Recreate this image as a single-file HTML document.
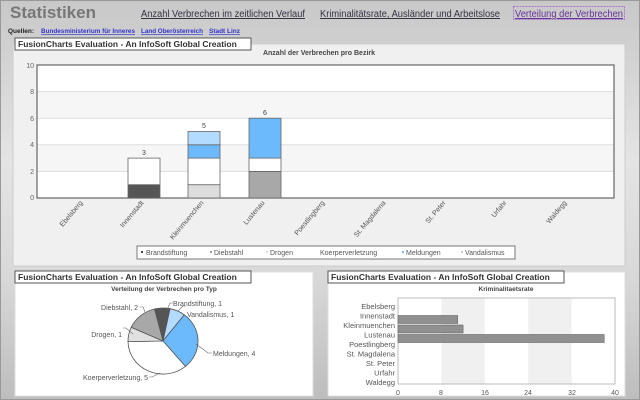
<!DOCTYPE html>
<html><head><meta charset="utf-8"><style>
body{margin:0;width:640px;height:400px;overflow:hidden;background:linear-gradient(#c8c8c8,#e4e4e4 40%,#d8d8d8 70%,#bdbdbd);font-family:"Liberation Sans",sans-serif;position:relative}
.a{position:absolute}
</style></head><body>
<div class="a" style="left:0;top:0;width:640px;height:400px;border:1px solid #999;box-sizing:border-box"></div>
<svg class="a" style="left:0;top:0" width="640" height="400" font-family="Liberation Sans, sans-serif">
<text x="10" y="18" font-size="17" font-weight="bold" fill="#777">Statistiken</text>
<g font-size="10" fill="#334" text-decoration="underline">
<text x="141" y="17" textLength="164" lengthAdjust="spacingAndGlyphs">Anzahl Verbrechen im zeitlichen Verlauf</text>
<text x="320" y="17" textLength="180" lengthAdjust="spacingAndGlyphs">Kriminalitätsrate, Ausländer und Arbeitslose</text>
</g>
<rect x="513.5" y="6.5" width="111" height="13" fill="none" stroke="#a7c" stroke-dasharray="2,1"/>
<text x="515" y="17" font-size="10" fill="#639" text-decoration="underline" textLength="108" lengthAdjust="spacingAndGlyphs">Verteilung der Verbrechen</text>
<text x="8" y="33" font-size="6.5" font-weight="bold" fill="#222">Quellen:</text>
<g font-size="6.5" font-weight="bold" fill="#33c" text-decoration="underline">
<text x="41" y="33" textLength="94" lengthAdjust="spacingAndGlyphs">Bundesministerium für Inneres</text>
<text x="141" y="33" textLength="62" lengthAdjust="spacingAndGlyphs">Land Oberösterreich</text>
<text x="209" y="33" textLength="31" lengthAdjust="spacingAndGlyphs">Stadt Linz</text>
</g>
<rect x="13" y="44" width="612" height="222" fill="#f0f0f0" stroke="#ccc"/>
<rect x="15" y="272" width="298" height="124" fill="#fff" stroke="#ddd"/>
<rect x="328" y="272" width="297" height="124" fill="#fff" stroke="#ddd"/>
<g>
<rect x="37" y="65" width="577" height="133" fill="#fff"/>
<rect x="37" y="91.6" width="577" height="26.6" fill="#f6f6f6"/>
<rect x="37" y="144.8" width="577" height="26.6" fill="#f6f6f6"/>
<g stroke="#ddd"><line x1="37" x2="614" y1="91.6" y2="91.6"/><line x1="37" x2="614" y1="118.2" y2="118.2"/><line x1="37" x2="614" y1="144.8" y2="144.8"/><line x1="37" x2="614" y1="171.4" y2="171.4"/></g>
<rect x="37" y="65" width="577" height="133" fill="none" stroke="#666" stroke-width="1.2"/>
<g font-size="7" fill="#666" text-anchor="end"><text x="34" y="68">10</text><text x="34" y="94">8</text><text x="34" y="121">6</text><text x="34" y="147">4</text><text x="34" y="174">2</text><text x="34" y="200">0</text></g>
<g stroke="#666" stroke-width="0.8">
<rect x="128" y="184.7" width="32" height="13.3" fill="#555"/>
<rect x="128" y="158.1" width="32" height="26.6" fill="#fff"/>
<rect x="188" y="184.7" width="32" height="13.3" fill="#ddd"/>
<rect x="188" y="158.1" width="32" height="26.6" fill="#fff"/>
<rect x="188" y="144.8" width="32" height="13.3" fill="#6cb9fb"/>
<rect x="188" y="131.5" width="32" height="13.3" fill="#b2dbff"/>
<rect x="249" y="171.4" width="32" height="26.6" fill="#a8a8a8"/>
<rect x="249" y="158.1" width="32" height="13.3" fill="#fff"/>
<rect x="249" y="118.2" width="32" height="39.9" fill="#6cb9fb"/>
</g>
<g font-size="7" fill="#444" text-anchor="middle"><text x="144" y="155">3</text><text x="204" y="128">5</text><text x="265" y="115">6</text></g>
<text x="319" y="55" font-size="7" font-weight="bold" fill="#444" text-anchor="middle">Anzahl der Verbrechen pro Bezirk</text>
<g font-size="7" fill="#555" text-anchor="end">
<text transform="translate(83,203) rotate(-50)">Ebelsberg</text>
<text transform="translate(144,203) rotate(-50)">Innenstadt</text>
<text transform="translate(204,203) rotate(-50)">Kleinmuenchen</text>
<text transform="translate(265,203) rotate(-50)">Lustenau</text>
<text transform="translate(325,203) rotate(-50)">Poestlingberg</text>
<text transform="translate(386,203) rotate(-50)">St. Magdalena</text>
<text transform="translate(446,203) rotate(-50)">St. Peter</text>
<text transform="translate(507,203) rotate(-50)">Urfahr</text>
<text transform="translate(567,203) rotate(-50)">Waldegg</text>
</g>
<rect x="137" y="246" width="378" height="13" fill="#fff" stroke="#777"/>
<g font-size="7" fill="#555"><text x="146" y="255">Brandstiftung</text><text x="214" y="255">Diebstahl</text><text x="270" y="255">Drogen</text><text x="320" y="255">Koerperverletzung</text><text x="406" y="255">Meldungen</text><text x="465" y="255">Vandalismus</text></g>
<rect x="141" y="251" width="2" height="2" fill="#444"/><rect x="210" y="251" width="2" height="2" fill="#999"/><rect x="266" y="251" width="2" height="2" fill="#ddd"/><rect x="402" y="251" width="2" height="2" fill="#6cb9fb"/><rect x="461" y="251" width="2" height="2" fill="#ccc"/>
</g>
<g font-size="8.5" font-weight="bold" fill="#333">
<rect x="15" y="38" width="236" height="12" fill="#fff" stroke="#555"/><text x="18" y="47">FusionCharts Evaluation - An InfoSoft Global Creation</text>
<rect x="15" y="271" width="236" height="12" fill="#fff" stroke="#555"/><text x="18" y="280">FusionCharts Evaluation - An InfoSoft Global Creation</text>
<rect x="328" y="271" width="236" height="12" fill="#fff" stroke="#555"/><text x="331" y="280">FusionCharts Evaluation - An InfoSoft Global Creation</text>
</g>
<text x="164" y="291" font-size="6.5" font-weight="bold" fill="#444" text-anchor="middle">Verteilung der Verbrechen pro Typ</text>
<g stroke="#555" stroke-width="0.8">
<path d="M163,341 L154.5,309 A35,33 0 0 1 170.1,308.7Z" fill="#555"/>
<path d="M163,341 L170.1,308.7 A35,33 0 0 1 184.3,314.8Z" fill="#b2dbff"/>
<path d="M163,341 L184.3,314.8 A35,33 0 0 1 185.4,366.4Z" fill="#6cb9fb"/>
<path d="M163,341 L185.4,366.4 A35,33 0 0 1 128,341.6Z" fill="#fff"/>
<path d="M163,341 L128,341.6 A35,33 0 0 1 131.2,327.3Z" fill="#e0e0e0"/>
<path d="M163,341 L131.2,327.3 A35,33 0 0 1 154.5,309Z" fill="#a8a8a8"/>
</g>
<g stroke="#666" stroke-width="0.6" fill="none">
<polyline points="167,310 170,303 173,303"/><polyline points="178,311 183,306 186,306"/><polyline points="196,344 208,353 212,353"/><polyline points="160,373 152,377 149,377"/><polyline points="133,334 126,328 123,328"/><polyline points="145,312 143,307 140,307"/>
</g>
<g font-size="7" fill="#555"><text x="173" y="306">Brandstiftung, 1</text><text x="187" y="317">Vandalismus, 1</text><text x="213" y="356">Meldungen, 4</text><text x="148" y="380" text-anchor="end">Koerperverletzung, 5</text><text x="122" y="337" text-anchor="end">Drogen, 1</text><text x="138" y="310" text-anchor="end">Diebstahl, 2</text></g>
<text x="506" y="291" font-size="6.5" font-weight="bold" fill="#444" text-anchor="middle">Kriminalitaetsrate</text>
<rect x="398" y="298" width="217" height="86" fill="#fff"/>
<rect x="441.4" y="298" width="43.4" height="86" fill="#f0f0f0"/>
<rect x="528.2" y="298" width="43.4" height="86" fill="#f0f0f0"/>
<rect x="398" y="298" width="217" height="86" fill="none" stroke="#bbb"/>
<g fill="#909090" stroke="#666" stroke-width="0.6">
<rect x="398" y="315.5" width="59.7" height="8"/><rect x="398" y="325" width="65.1" height="8"/><rect x="398" y="334.5" width="206.2" height="8"/>
</g>
<g font-size="7.5" fill="#555" text-anchor="end">
<text x="395" y="309">Ebelsberg</text><text x="395" y="318.5">Innenstadt</text><text x="395" y="328">Kleinmuenchen</text><text x="395" y="337.5">Lustenau</text><text x="395" y="347">Poestlingberg</text><text x="395" y="356.5">St. Magdalena</text><text x="395" y="366">St. Peter</text><text x="395" y="375.5">Urfahr</text><text x="395" y="385">Waldegg</text>
</g>
<g font-size="7" fill="#555" text-anchor="middle"><text x="398" y="395">0</text><text x="441" y="395">8</text><text x="485" y="395">16</text><text x="528" y="395">24</text><text x="572" y="395">32</text><text x="615" y="395">40</text></g>
</svg>
</body></html>
